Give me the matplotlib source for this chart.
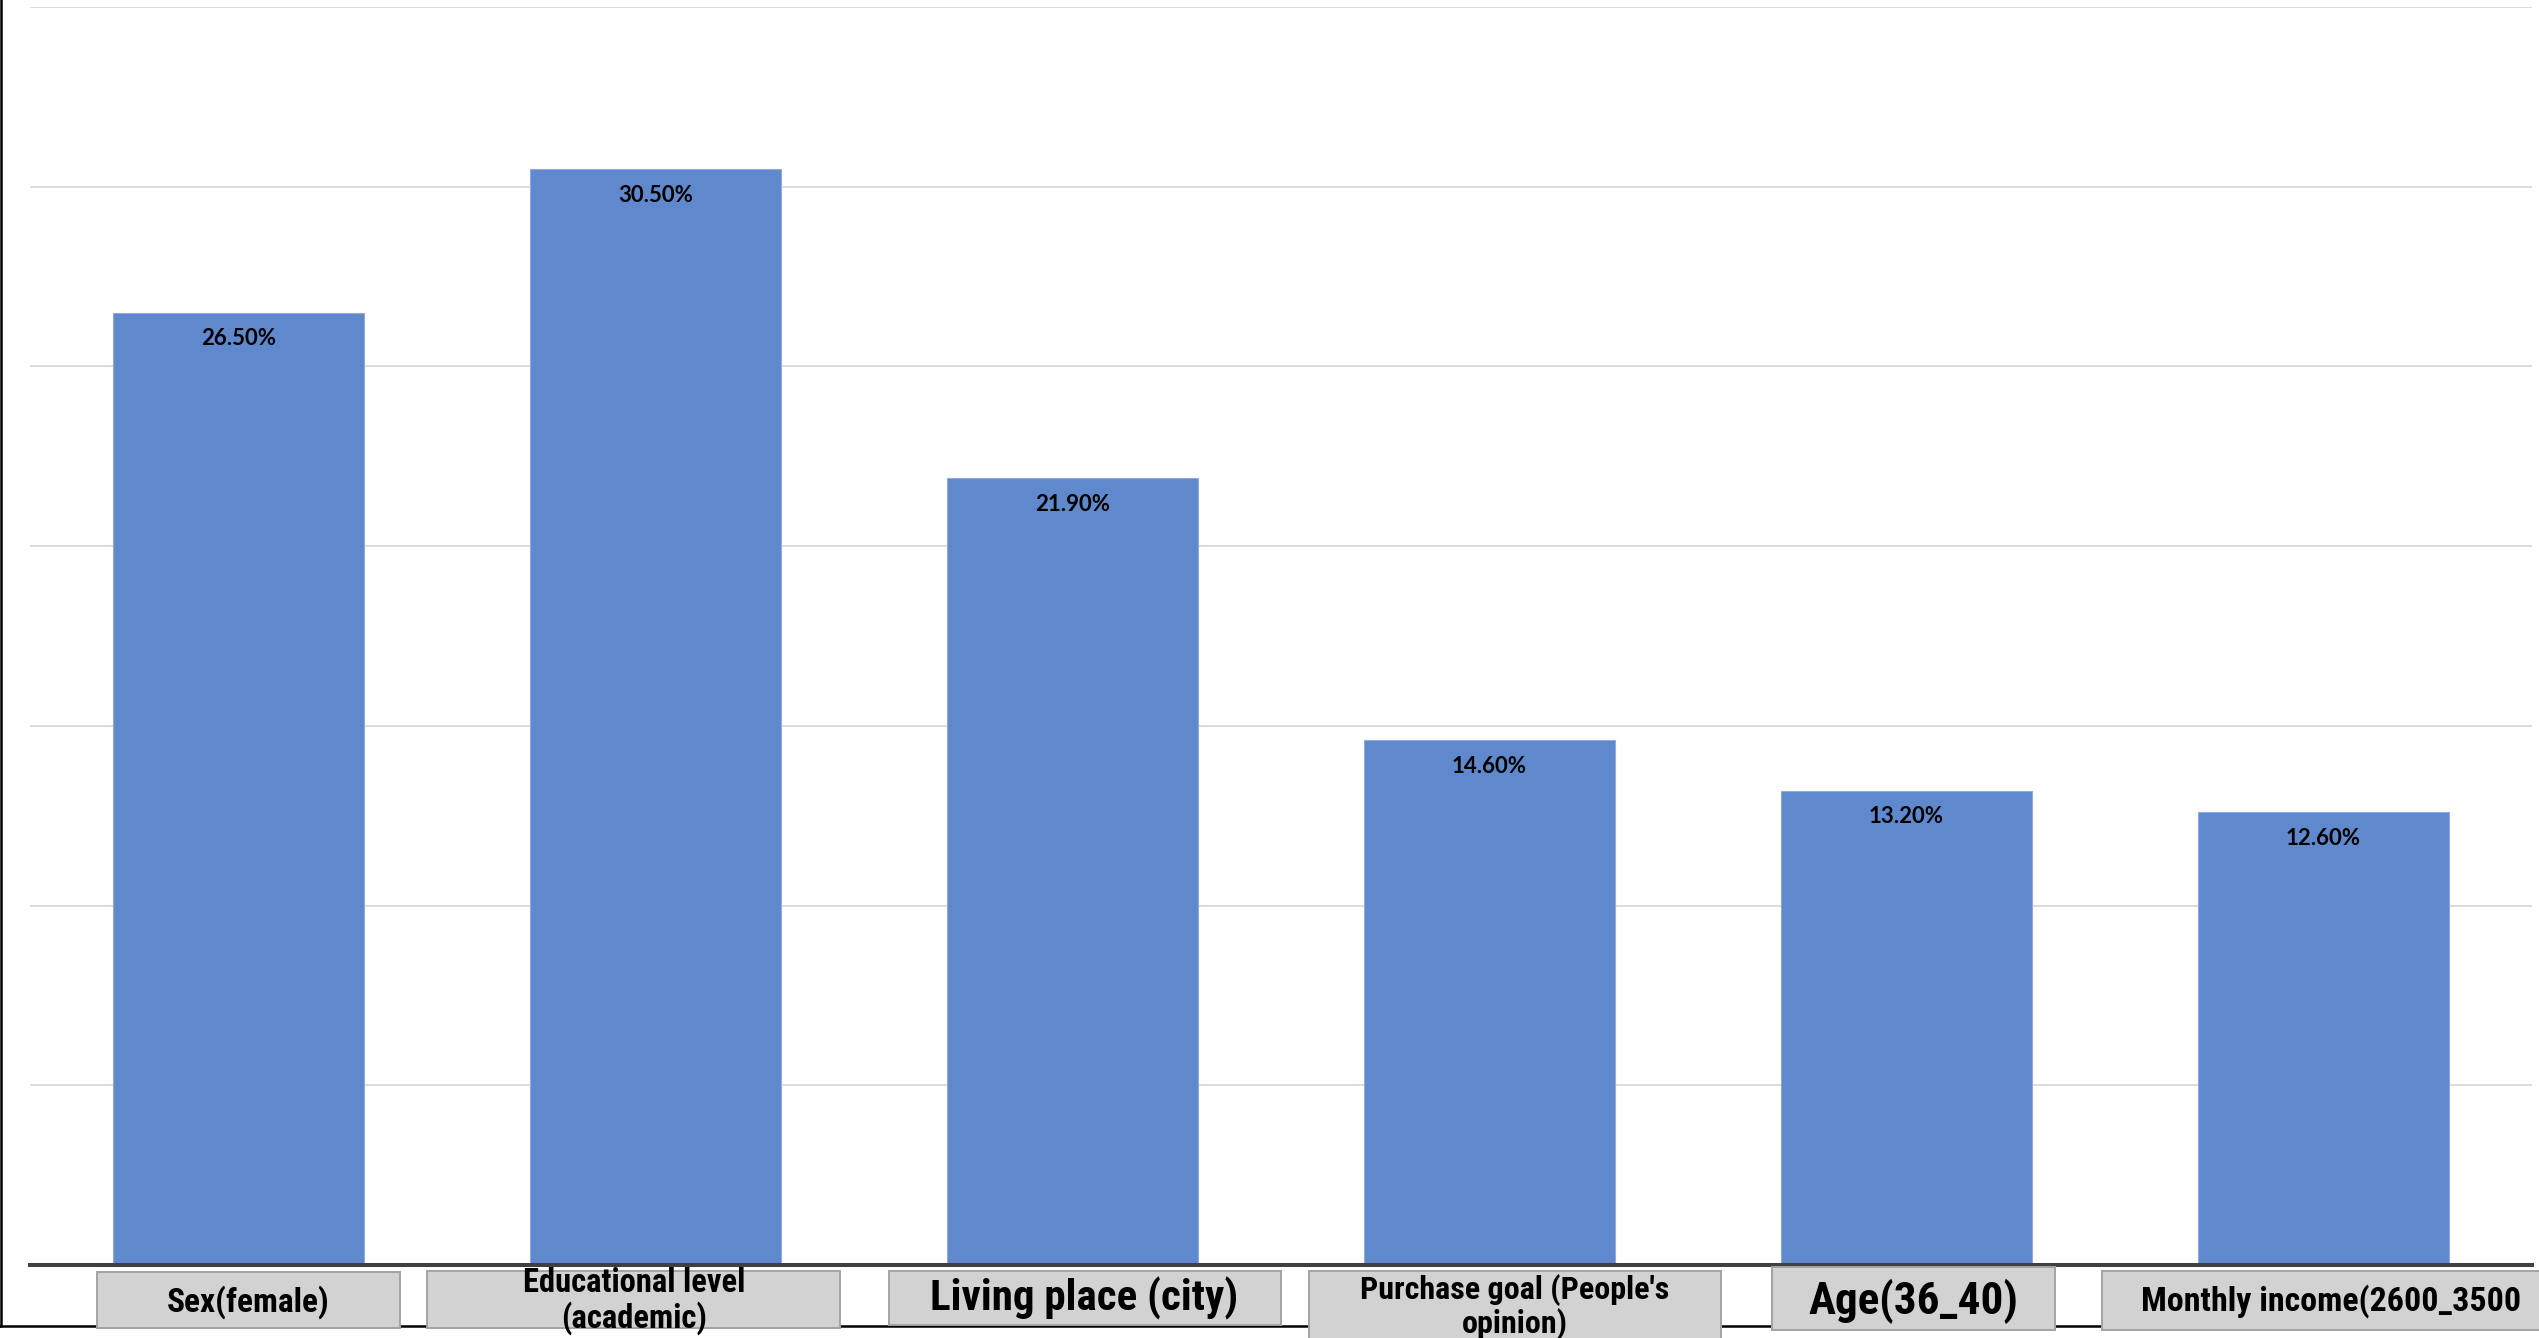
import matplotlib
matplotlib.use("Agg")
import matplotlib.pyplot as plt
from matplotlib import font_manager
from matplotlib.lines import Line2D
from matplotlib.patches import Rectangle
from matplotlib.transforms import blended_transform_factory

# data
categories = ["Sex(female)", "Educational level\n(academic)", "Living place (city)",
              "Purchase goal (People's\nopinion)", "Age(36_40)", "Monthly income(2600_3500"]
values = [26.5, 30.5, 21.9, 14.6, 13.2, 12.6]
y_ticks = [0, 5, 10, 15, 20, 25, 30, 35]

# pick fonts that exist in the sandbox
installed = {f.name for f in font_manager.fontManager.ttflist}
def pick(*names):
    for n in names:
        if n in installed:
            return n
    return "DejaVu Sans"
narrow = pick("Liberation Sans Narrow", "Roboto Condensed", "Liberation Sans")
value_font = pick("Lato", "Open Sans", "DejaVu Sans")

W, H = 2539, 1338
fig = plt.figure(figsize=(W / 100, H / 100), dpi=100)

# axes placed in pixel terms: x 30..2532, y 7..1265
ax_left, ax_right, ax_top, ax_bot = 30, 2532, 7, 1265
ax = fig.add_axes([ax_left / W, 1 - ax_bot / H, (ax_right - ax_left) / W, (ax_bot - ax_top) / H])

x = list(range(len(values)))
bars = ax.bar(x, values, width=0.6, color="#6088cd", edgecolor="#8faadd", linewidth=0.8, zorder=3)

ax.set_xlim(-0.5, len(values) - 0.5)
ax.set_ylim(0, 35)
ax.set_yticks(y_ticks)
ax.yaxis.grid(True, color="#d9d9d9", linewidth=1.3, zorder=0)
ax.set_axisbelow(True)
ax.tick_params(left=False, bottom=False, labelleft=False, labelbottom=False)
for s in ["top", "right", "left"]:
    ax.spines[s].set_visible(False)
ax.spines["bottom"].set_color("#404040")
ax.spines["bottom"].set_linewidth(2.9)
ax.spines["bottom"].set_zorder(4)

# value labels just inside the bar tops
for b, v in zip(bars, values):
    ax.annotate(f"{v:.2f}%", (b.get_x() + b.get_width() / 2, v), xytext=(0, -19),
                textcoords="offset points", ha="center", va="center",
                fontsize=16, fontweight="bold", family=value_font, color="black", zorder=5)

# category label boxes below the axis
trans = blended_transform_factory(ax.transData, ax.transAxes)
def ay(py):
    return (ax_bot - py) / (ax_bot - ax_top)

# (box x offset, box width, box top px, box bottom px, font size, text x offset, text centre px)
box_layout = [
    (0.023, 0.727, 1272, 1328, 24, 0.023, 1302),
    (-0.052, 0.990, 1271, 1328, 23.5, -0.052, 1301),
    (0.029, 0.940, 1271, 1325, 31, 0.029, 1298),
    (0.061, 0.986, 1271, 1345, 23, 0.061, 1307),
    (0.016, 0.679, 1267, 1330, 32.5, 0.016, 1301),
    (-0.006, 1.048, 1271, 1330, 24.5, 0.019, 1301),
]

# black frame lines (left and bottom) drawn behind the boxes
fy = 1 - 1326 / H
fig.add_artist(Line2D([0, 1], [fy, fy], color="black", linewidth=1.8, zorder=-1))
fig.add_artist(Line2D([0.7 / W, 0.7 / W], [fy, 1], color="black", linewidth=1.8, zorder=-1))

for i, (lab, (dx, w, top, bot, fs, tx, ty)) in enumerate(zip(categories, box_layout)):
    cx = i + dx
    ax.add_patch(Rectangle((cx - w / 2, ay(bot)), w, ay(top) - ay(bot), transform=trans,
                           facecolor="#d2d2d2", edgecolor="#a3a3a3", linewidth=1.4,
                           clip_on=False, zorder=6))
    ax.text(i + tx, ay(ty), lab, transform=trans, ha="center", va="center", fontsize=fs,
            fontweight="bold", family=narrow, color="black", linespacing=1.1,
            clip_on=False, zorder=7)

fig.savefig("out.png", dpi=100)
